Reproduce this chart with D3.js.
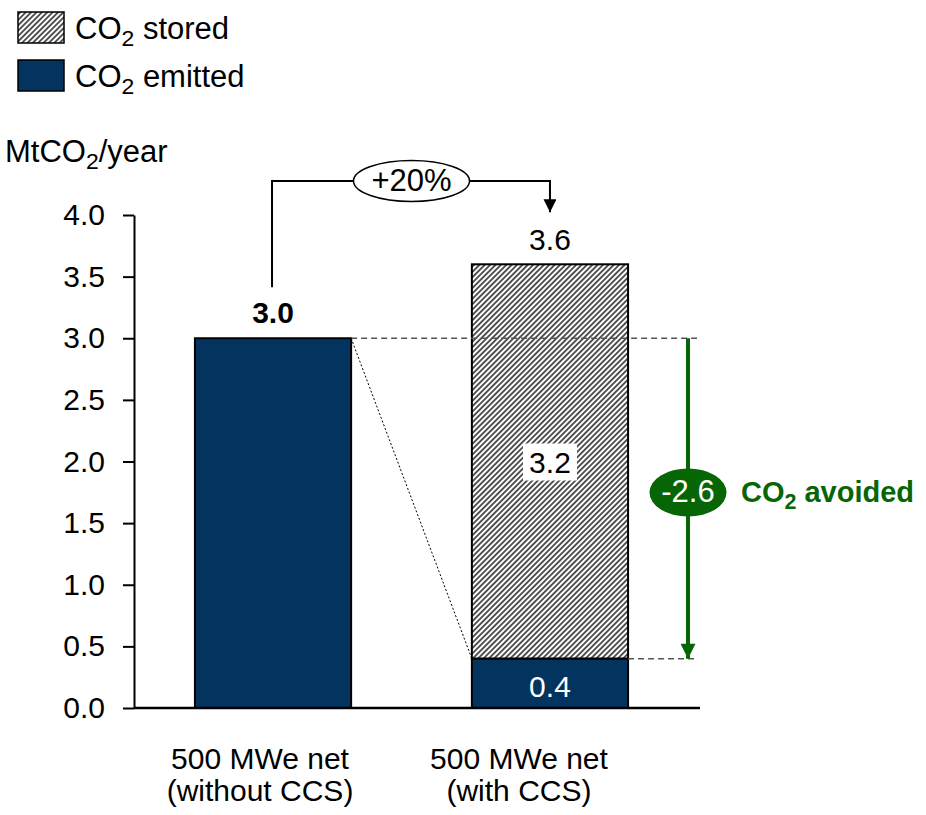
<!DOCTYPE html>
<html>
<head>
<meta charset="utf-8">
<script src="https://cdn.jsdelivr.net/npm/d3@7"></script>
<style>
  html, body { margin: 0; padding: 0; background: #fff; }
  svg { display: block; font-family: "Liberation Sans", Arial, sans-serif; }
</style>
</head>
<body>
<svg id="chart" width="926" height="815"></svg>
<script>
// Annual CO2 of a 500 MWe net plant, without and with capture
const categories = ["500 MWe net|(without CCS)", "500 MWe net|(with CCS)"];
const emitted = [3.0, 0.4];
const stored = [0, 3.2];
const yTicks = [0, 0.5, 1, 1.5, 2, 2.5, 3, 3.5, 4];
const increaseLabel = "+20%";
const avoided = -2.6;

const NAVY = "#03335f";
const GREEN = "#066606";
const FS = 30;
const fmt = v => v.toFixed(1);

const svg = d3.select("#chart");
const defs = svg.append("defs");

// diagonal hatch for stored CO2
const pat = defs.append("pattern")
  .attr("id", "hatch")
  .attr("patternUnits", "userSpaceOnUse")
  .attr("width", 3.8).attr("height", 3.8)
  .attr("patternTransform", "rotate(45)");
pat.append("rect").attr("width", 3.8).attr("height", 3.8).attr("fill", "#fff");
pat.append("line").attr("x1", 1.9).attr("y1", 0).attr("x2", 1.9).attr("y2", 3.8)
  .attr("stroke", "#3a3a3a").attr("stroke-width", 1.7);

defs.append("marker").attr("id", "arrBlack")
  .attr("viewBox", "0 0 10 10").attr("refX", 10).attr("refY", 5)
  .attr("markerUnits", "userSpaceOnUse").attr("markerWidth", 14).attr("markerHeight", 13)
  .attr("orient", "auto")
  .append("path").attr("d", "M0,0 L10,5 L0,10 Z").attr("fill", "#000");
defs.append("marker").attr("id", "arrGreen")
  .attr("viewBox", "0 0 10 10").attr("refX", 10).attr("refY", 5)
  .attr("markerUnits", "userSpaceOnUse").attr("markerWidth", 16).attr("markerHeight", 15)
  .attr("orient", "auto")
  .append("path").attr("d", "M0,0 L10,5 L0,10 Z").attr("fill", GREEN);

// text with a subscript "2" after "CO"
function co2Text(t, before, after, size) {
  t.append("tspan").text(before + "CO");
  t.append("tspan").text("2").attr("font-size", size * 0.74).attr("dy", size * 0.22);
  t.append("tspan").text(after).attr("dy", -size * 0.22);
  return t;
}

const y = d3.scaleLinear().domain([0, 4]).range([708, 215]);
const x = d3.scaleBand().domain(categories).range([134, 689])
  .paddingInner(0.436).paddingOuter(0.22);
const bw = x.bandwidth();

// Legend
const legend = [{ fill: "url(#hatch)", after: " stored" }, { fill: NAVY, after: " emitted" }];
legend.forEach((d, i) => {
  const g = svg.append("g").attr("transform", `translate(18,${12 + i * 48})`);
  g.append("rect").attr("width", 46).attr("height", 31)
    .attr("fill", d.fill).attr("stroke", "#000").attr("stroke-width", 1.5);
  co2Text(g.append("text").attr("x", 57).attr("y", 27).attr("font-size", 31), "", d.after, 31);
});

// Y-axis title
co2Text(svg.append("text").attr("x", 5).attr("y", 162).attr("font-size", 31), "Mt", "/year", 31);

// Y axis
const yAxis = svg.append("g").attr("transform", "translate(134,0)")
  .call(d3.axisLeft(y).tickValues(yTicks).tickFormat(fmt)
    .tickSize(11).tickSizeOuter(0).tickPadding(18));
yAxis.select(".domain").attr("stroke-width", 2);
yAxis.selectAll(".tick line").attr("stroke-width", 2);
yAxis.selectAll(".tick text").attr("font-size", FS).attr("font-family", "Liberation Sans, Arial, sans-serif")
  .attr("fill", "#000");

// Bars: emitted at the bottom, stored on top
categories.forEach((c, i) => {
  const x0 = x(c);
  if (stored[i] > 0) {
    svg.append("rect").attr("x", x0).attr("width", bw)
      .attr("y", y(emitted[i] + stored[i]))
      .attr("height", y(emitted[i]) - y(emitted[i] + stored[i]))
      .attr("fill", "url(#hatch)").attr("stroke", "#000").attr("stroke-width", 2);
  }
  svg.append("rect").attr("x", x0).attr("width", bw)
    .attr("y", y(emitted[i])).attr("height", y(0) - y(emitted[i]))
    .attr("fill", NAVY).attr("stroke", "#000").attr("stroke-width", 2);
});

// Baseline
svg.append("line").attr("x1", 134).attr("x2", 700).attr("y1", y(0)).attr("y2", y(0))
  .attr("stroke", "#000").attr("stroke-width", 2.5);

const cx0 = x(categories[0]) + bw / 2;
const cx1 = x(categories[1]) + bw / 2;
const right0 = x(categories[0]) + bw;
const left1 = x(categories[1]);
const right1 = x(categories[1]) + bw;
const guideEnd = 697;

// Guides: reference level and remaining emissions
svg.append("line").attr("x1", right0).attr("x2", guideEnd)
  .attr("y1", y(emitted[0])).attr("y2", y(emitted[0]))
  .attr("stroke", "#555").attr("stroke-width", 1.5).attr("stroke-dasharray", "6,4");
svg.append("line").attr("x1", right1).attr("x2", guideEnd)
  .attr("y1", y(emitted[1])).attr("y2", y(emitted[1]))
  .attr("stroke", "#555").attr("stroke-width", 1.5).attr("stroke-dasharray", "6,4");
svg.append("line").attr("x1", right0).attr("x2", left1)
  .attr("y1", y(emitted[0])).attr("y2", y(emitted[1]))
  .attr("stroke", "#000").attr("stroke-width", 1).attr("stroke-dasharray", "2,2");

// Value labels
const total0 = emitted[0] + stored[0];
const total1 = emitted[1] + stored[1];
svg.append("text").attr("x", cx0).attr("y", y(total0) - 15).attr("text-anchor", "middle")
  .attr("font-size", FS).attr("font-weight", "bold").text(fmt(total0));
svg.append("text").attr("x", cx1).attr("y", y(total1) - 14).attr("text-anchor", "middle")
  .attr("font-size", FS).text(fmt(total1));

const midStored = y(emitted[1] + stored[1] / 2);
svg.append("rect").attr("x", cx1 - 27).attr("y", midStored - 18).attr("width", 54).attr("height", 37)
  .attr("fill", "#fff");
svg.append("text").attr("x", cx1).attr("y", midStored + 11).attr("text-anchor", "middle")
  .attr("font-size", FS).text(fmt(stored[1]));
svg.append("text").attr("x", cx1).attr("y", y(0) - 11).attr("text-anchor", "middle")
  .attr("font-size", FS).attr("fill", "#fff").text(fmt(emitted[1]));

// +20% connector
const topY = y(4) - 34;
svg.append("path")
  .attr("d", `M${cx0 - 1},${y(total0) - 51} V${topY} H${cx1} V${y(total1) - 52}`)
  .attr("fill", "none").attr("stroke", "#000").attr("stroke-width", 2)
  .attr("marker-end", "url(#arrBlack)");
const midX = (cx0 + cx1) / 2;
svg.append("ellipse").attr("cx", midX).attr("cy", topY).attr("rx", 58).attr("ry", 20.5)
  .attr("fill", "#fff").attr("stroke", "#000").attr("stroke-width", 1.5);
svg.append("text").attr("x", midX).attr("y", topY + 10).attr("text-anchor", "middle")
  .attr("font-size", 31).text(increaseLabel);

// CO2 avoided arrow
const ax = 688;
svg.append("line").attr("x1", ax).attr("x2", ax)
  .attr("y1", y(emitted[0])).attr("y2", y(emitted[0] + avoided))
  .attr("stroke", GREEN).attr("stroke-width", 4).attr("marker-end", "url(#arrGreen)");
const ay = (y(emitted[0]) + y(emitted[0] + avoided)) / 2 - 6;
svg.append("ellipse").attr("cx", ax).attr("cy", ay).attr("rx", 38.5).attr("ry", 24)
  .attr("fill", GREEN);
svg.append("text").attr("x", ax).attr("y", ay + 10).attr("text-anchor", "middle")
  .attr("font-size", 31).attr("fill", "#fff").text(fmt(avoided));
co2Text(svg.append("text").attr("x", 741).attr("y", ay + 10).attr("font-size", 29)
  .attr("font-weight", "bold").attr("fill", GREEN), "", " avoided", 29);

// Category labels
const labelShift = [-13, -31];
categories.forEach((c, i) => {
  const lines = c.split("|");
  const t = svg.append("text").attr("text-anchor", "middle").attr("font-size", FS);
  lines.forEach((l, j) => {
    t.append("tspan").attr("x", x(c) + bw / 2 + labelShift[i]).attr("y", 769 + j * 32).text(l);
  });
});
</script>
</body>
</html>
